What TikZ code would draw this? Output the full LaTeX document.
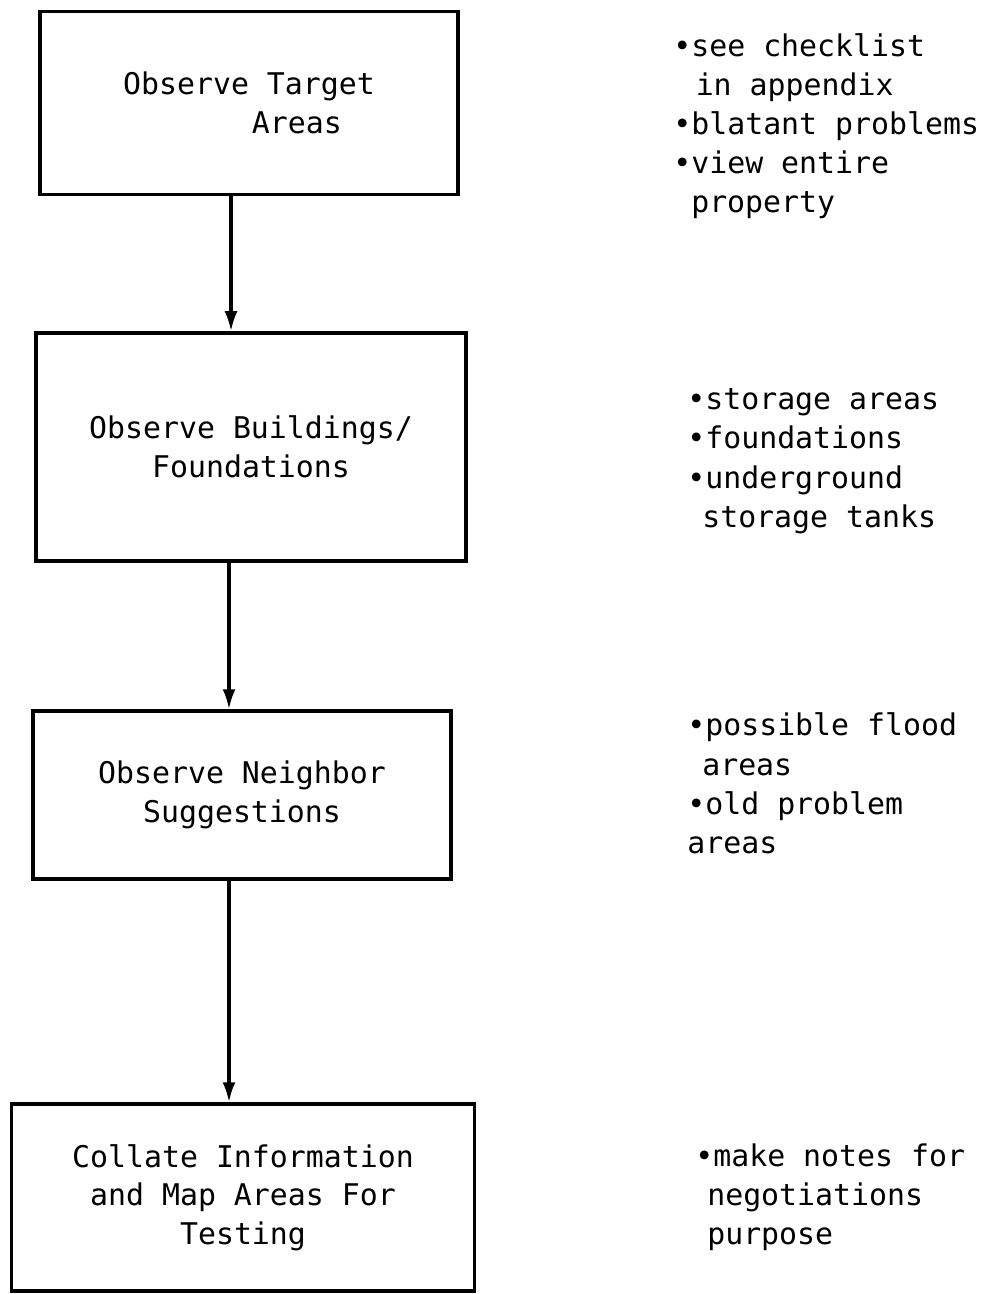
\documentclass[tikz,border=0pt]{standalone}
\usepackage{fontspec}
\setmonofont{DejaVu Sans Mono}
\usetikzlibrary{arrows.meta}

\begin{document}
\begin{tikzpicture}[x=0.02cm,y=-0.02cm,
  stepbox/.style={draw, line width=2pt, inner sep=0pt, align=center,
    font=\ttfamily\fontsize{17}{22}\selectfont},
  notes/.style={anchor=base west, align=left, inner sep=0pt,
    font=\ttfamily\fontsize{17}{22.2}\selectfont},
  flow/.style={line width=1.8pt, -{Latex[length=4mm,width=2.6mm]}}]
  \useasboundingbox (0,0) rectangle (1002,1294);

  % process boxes
  \node[stepbox, minimum width=418*0.02cm, minimum height=183*0.02cm] (target) at (249,103)
    {Observe Target\\\hspace*{3.2em}Areas};
  \node[stepbox, minimum width=430*0.02cm, minimum height=228*0.02cm] (build) at (251,447)
    {Observe Buildings/\\Foundations};
  \node[stepbox, minimum width=418*0.02cm, minimum height=168*0.02cm] (neigh) at (242,795)
    {Observe Neighbor\\Suggestions};
  \node[stepbox, minimum width=463*0.02cm, minimum height=187*0.02cm] (collate) at (243,1197.5)
    {Collate Information\\and Map Areas For\\Testing};

  % arrows
  \coordinate (colA) at (231,0);
  \coordinate (colB) at (229,0);
  \draw[flow] (target.south -| colA) -- (build.north -| colA);
  \draw[flow] (build.south -| colB) -- (neigh.north -| colB);
  \draw[flow] (neigh.south -| colB) -- (collate.north -| colB);

  % side notes (base = last line)
  \node[notes] (noteA) at (673,213)
    {•see checklist\\\hspace*{0.75em}in appendix\\•blatant problems\\•view entire\\\hspace*{0.6em}property};
  \node[notes] (noteB) at (687,527)
    {•storage areas\\•foundations\\•underground\\\hspace*{0.5em}storage tanks};
  \node[notes] (noteC) at (687,853)
    {•possible flood\\\hspace*{0.5em}areas\\•old problem\\areas};
  \node[notes] (noteD) at (695,1244)
    {•make notes for\\\hspace*{0.4em}negotiations\\\hspace*{0.4em}purpose};
\end{tikzpicture}
\end{document}
